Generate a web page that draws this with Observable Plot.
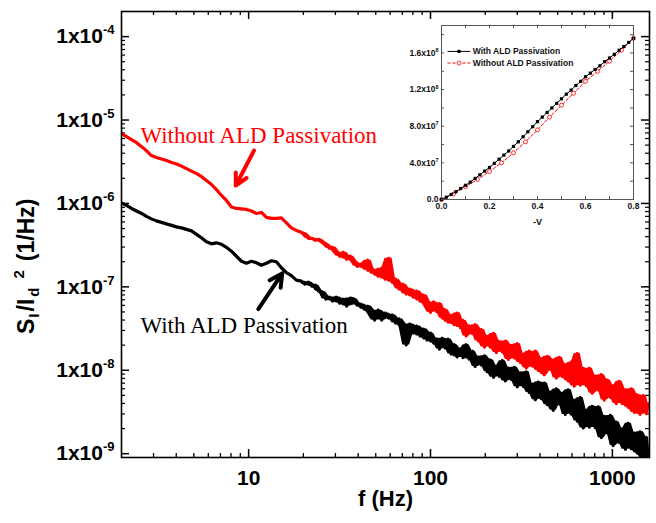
<!DOCTYPE html>
<html><head><meta charset="utf-8">
<script src="https://cdn.jsdelivr.net/npm/d3@7"></script>
<script src="https://cdn.jsdelivr.net/npm/@observablehq/plot@0.6"></script>
<style>
body{margin:0;background:#fff;}
#wrap{position:relative;width:656px;height:523px;overflow:hidden;}
#inset{position:absolute;left:395px;top:15px;}
</style></head><body><div id="wrap"><div id="main"></div><div id="inset"></div></div>
<script>
// ---- main spectrum data (frequency in Hz, log10 of S_I/I_d^2) ----
const freqHz = [2,2.13,2.27,2.42,2.58,2.74,2.92,3.11,3.32,3.53,3.77,4.01,4.27,4.55,4.85,5.17,5.5,5.86,6.25,6.65,7.09,7.55,8.04,8.57,9.13,9.72,10.36,11.04,11.76,12.52,13.34,14.21,15.14,16.13,17.18,18.3,
19.5,20.4,21.3,22.3,23.3,24.3,25.4,26.6,27.8,29,30.3,31.7,33.1,34.6,36.2,37.8,39.5,41.3,43.2,45.1,47.2,49.3,51.5,53.9,56.3,58.9,61.5,64.3,67.2,70.3,73.5,76.8,80.3,83.9,87.7,91.7,95.8,
100,104,108,112,116,120,125,130,135,140,146,151,157,163,170,176,183,190,198,205,213,222,230,239,248,258,268,278,289,300,312,324,336,349,363,377,391,407,422,439,456,473,492,511,530,551,572,594,617,641,666,692,719,747,775,805,837,869,902,937,974,1010,1050,1090,1130,1180,1220,1270,1320,1370,1420,1480,1540,1575];

const log10WithALD = [-5.994,-6.024,-6.060,-6.090,-6.120,-6.155,-6.185,-6.209,-6.227,-6.245,-6.263,-6.281,-6.293,-6.311,-6.329,-6.371,-6.412,-6.460,-6.484,-6.472,-6.490,-6.526,-6.573,-6.633,-6.693,-6.717,-6.693,-6.711,-6.741,-6.717,-6.687,-6.699,-6.771,-6.830,-6.866,-6.920,
-6.932,-6.968,-6.944,-6.992,-6.980,-7.051,-7.063,-7.147,-7.123,-7.171,-7.123,-7.195,-7.147,-7.231,-7.135,-7.147,-7.219,-7.207,-7.267,-7.231,-7.326,-7.398,-7.279,-7.398,-7.314,-7.374,-7.338,-7.434,-7.386,-7.482,-7.697,-7.446,-7.553,-7.470,-7.589,-7.506,-7.637,
-7.556,-7.673,-7.624,-7.746,-7.617,-7.731,-7.628,-7.805,-7.693,-7.840,
-7.744,-7.848,-7.694,-7.865,-7.773,-7.955,-7.842,-7.935,-7.827,-8.017,
-7.876,-8.084,-7.951,-8.071,-7.885,-8.128,-7.974,-8.110,-7.965,-8.198,
-8.030,-8.194,-8.019,-8.266,-8.167,-8.352,-8.142,-8.341,-8.153,-8.413,
-8.263,-8.480,-8.224,-8.404,-8.277,-8.529,-8.235,-8.525,-8.360,-8.609,
-8.328,-8.692,-8.480,-8.681,-8.432,-8.687,-8.439,-8.808,-8.553,-8.751,
-8.541,-8.903,-8.620,-8.865,-8.706,-8.947,-8.635,-8.941,-8.754,-8.993,
-8.738,-9.058,-8.806,-9.067];

const log10WithoutALD = [-5.164,-5.200,-5.235,-5.271,-5.319,-5.367,-5.426,-5.450,-5.468,-5.486,-5.510,-5.528,-5.552,-5.582,-5.612,-5.642,-5.677,-5.725,-5.773,-5.833,-5.904,-5.964,-6.042,-6.060,-6.066,-6.072,-6.090,-6.120,-6.108,-6.167,-6.179,-6.179,-6.173,-6.233,-6.293,-6.323,
-6.346,-6.370,-6.418,-6.418,-6.442,-6.430,-6.466,-6.490,-6.538,-6.526,-6.585,-6.633,-6.585,-6.669,-6.633,-6.693,-6.753,-6.729,-6.777,-6.681,-6.824,-6.801,-6.872,-6.777,-6.908,-6.657,-6.944,-6.908,-7.027,-6.968,-7.087,-7.027,-7.123,-7.051,-7.171,-7.099,-7.231,
-7.305,-7.181,-7.295,-7.200,-7.372,-7.274,-7.423,-7.342,-7.453,-7.314,
-7.488,-7.403,-7.589,-7.468,-7.560,-7.454,-7.647,-7.512,-7.722,-7.594,
-7.722,-7.558,-7.788,-7.656,-7.779,-7.650,-7.871,-7.703,-7.852,-7.682,
-7.906,-7.808,-7.972,-7.771,-7.949,-7.771,-8.002,-7.860,-8.054,-7.832,
-7.989,-7.880,-8.093,-7.845,-8.075,-7.933,-8.128,-7.903,-8.190,-7.800,
-8.179,-7.976,-8.185,-7.977,-8.275,-8.069,-8.235,-8.053,-8.357,-8.117,
-8.324,-8.188,-8.399,-8.132,-8.399,-8.235,-8.443,-8.222,-8.505,-8.294,
-8.528,-8.304,-8.521,-8.403];

// axes
const xDomain = [2, 1600];
const yDomain = [9e-10, 2e-4];
const xMajorTicks = [10, 100, 1000];
const xMinorTicks = [3,4,5,6,7,8,9,20,30,40,50,60,70,80,90,200,300,400,500,600,700,800,900];
const yMajorTicks = [1e-9, 1e-8, 1e-7, 1e-6, 1e-5, 1e-4];
const yMinorMultipliers = [2,3,4,5,6,7,8,9];
const noisyFromHz = 19;

// annotations
const annoLabels = ["Without ALD Passivation", "With ALD Passivation"];
const annoFreq = [2.54, 2.54];
const annoValue = [6.5e-6, 3.45e-8];
const annoColor = ["#ff0000", "#000000"];
const arrowFreqStart = [10.7, 11.3];
const arrowValueStart = [4.3e-6, 5.4e-8];
const arrowFreqEnd = [8.5, 15.3];
const arrowValueEnd = [1.64e-6, 1.45e-7];

// ---- inset I-V data ----
const insetVoltWith = [0,0.02,0.04,0.06,0.08,0.10,0.12,0.14,0.16,0.18,0.20,0.22,0.24,0.26,0.28,0.30,0.32,0.34,0.36,0.38,0.40,0.42,0.44,0.46,0.48,0.50,0.52,0.54,0.56,0.58,0.60,0.62,0.64,0.66,0.68,0.70,0.72,0.74,0.76,0.78,0.80];
const insetCurrentWith_1e7 = [0,0.25,0.55,0.85,1.2,1.55,1.9,2.3,2.7,3.1,3.5,3.95,4.4,4.85,5.3,5.8,6.3,6.85,7.4,7.95,8.5,9.0,9.5,10.0,10.5,11.0,11.5,11.95,12.45,12.9,13.4,13.8,14.2,14.6,15.05,15.45,15.85,16.3,16.7,17.15,17.6];
const insetVoltWithout = [0,0.05,0.10,0.15,0.20,0.25,0.30,0.35,0.40,0.45,0.50,0.55,0.60,0.65,0.70,0.75,0.80];
const insetCurrentWithout_1e7 = [0,0.6,1.4,2.2,3.05,4.0,5.1,6.3,7.6,9.0,10.3,11.6,12.9,14.0,15.1,16.3,17.6];
const insetXLabelTicks = [0, 0.2, 0.4, 0.6, 0.8];
const insetXTickMarks = [0.1,0.2,0.3,0.4,0.5,0.6,0.7];
const insetYLabelTicks = [0, 4e7, 8e7, 1.2e8, 1.6e8];
const insetYTickMarks = [2e7,4e7,6e7,8e7,1e8,1.2e8,1.4e8,1.6e8,1.8e8];
const insetLegendLabels = ["With ALD Passivation", "Without ALD Passivation"];
const insetLegendY = [1.617e8, 1.49e8];
const insetLegendX = [0.025, 0.073, 0.12, 0.13];
const insetXTitle = ["-V"];

// ---- build main ----
const W = 656, H = 523, mL = 121, mR = 7, mT = 11, mB = 66;
const fw = W - mL - mR, fh = H - mT - mB;
const withALD = freqHz.map((f, i) => ({f, v: 10 ** log10WithALD[i]}));
const withoutALD = freqHz.map((f, i) => ({f, v: 10 ** log10WithoutALD[i]}));
const yMinorTicks = yMajorTicks.slice(0, -1).flatMap(d => yMinorMultipliers.map(m => d * m));
const annotations = annoLabels.map((t, i) => ({t, f: annoFreq[i], v: annoValue[i], c: annoColor[i]}));
const arrows = arrowFreqStart.map((f, i) => ({f1: f, v1: arrowValueStart[i], f2: arrowFreqEnd[i], v2: arrowValueEnd[i]}));
const font = "'Liberation Sans', Arial, Helvetica, sans-serif";
const serif = "'Liberation Serif', 'Times New Roman', serif";

// filled envelope of the dense noisy part of each trace
const band = (data, color) => Plot.areaY(data.filter(d => d.f >= noisyFromHz), Plot.map(
  {y1: Plot.window({k: 3, reduce: "min"}), y2: Plot.window({k: 3, reduce: "max"})},
  {x: "f", y1: "v", y2: "v", fill: color, clip: true}));

const main = Plot.plot({
  width: W, height: H, marginLeft: mL, marginRight: mR, marginTop: mT, marginBottom: mB,
  style: {background: "#fff", fontFamily: font, color: "#000"},
  x: {type: "log", domain: xDomain},
  y: {type: "log", domain: yDomain},
  marks: [
    Plot.ruleX(xMinorTicks, {insetTop: fh - 4, stroke: "#000", strokeWidth: 1.3}),
    Plot.ruleX(xMajorTicks, {insetTop: fh - 8, stroke: "#000", strokeWidth: 1.5}),
    Plot.ruleX(xMinorTicks, {insetBottom: fh - 4, stroke: "#000", strokeWidth: 1.3}),
    Plot.ruleX(xMajorTicks, {insetBottom: fh - 8, stroke: "#000", strokeWidth: 1.5}),
    Plot.ruleY(yMinorTicks, {insetRight: fw - 4, stroke: "#000", strokeWidth: 1.2}),
    Plot.ruleY(yMajorTicks, {insetRight: fw - 8, stroke: "#000", strokeWidth: 1.5}),
    Plot.ruleY(yMinorTicks, {insetLeft: fw - 4, stroke: "#000", strokeWidth: 1.2}),
    Plot.ruleY(yMajorTicks, {insetLeft: fw - 8, stroke: "#000", strokeWidth: 1.5}),
    Plot.axisX({ticks: xMajorTicks, tickSize: 0, tickPadding: 13, tickFormat: d => String(d), fontSize: 21, fontWeight: "bold", label: null}),
    Plot.axisY({ticks: yMajorTicks, tickSize: 0, tickPadding: 7, tickFormat: d => "1x10^" + Math.round(Math.log10(d)), fontSize: 21, fontWeight: "bold", label: null}),
    band(withALD, "#000"),
    Plot.line(withALD, {x: "f", y: "v", stroke: "#000", strokeWidth: 3.2, clip: true}),
    band(withoutALD, "#ff0000"),
    Plot.line(withoutALD, {x: "f", y: "v", stroke: "#ff0000", strokeWidth: 3.2, clip: true}),
    Plot.arrow([arrows[0]], {x1: "f1", y1: "v1", x2: "f2", y2: "v2", stroke: "#ff0000", strokeWidth: 4, headLength: 13, headAngle: 55}),
    Plot.arrow([arrows[1]], {x1: "f1", y1: "v1", x2: "f2", y2: "v2", stroke: "#000", strokeWidth: 4, headLength: 13, headAngle: 55}),
    Plot.text([annotations[0]], {x: "f", y: "v", text: "t", fill: "#ff0000", textAnchor: "start", fontSize: 23, fontFamily: serif}),
    Plot.text([annotations[1]], {x: "f", y: "v", text: "t", fill: "#000", textAnchor: "start", fontSize: 23, fontFamily: serif}),
    Plot.text(["f (Hz)"], {text: d => d, frameAnchor: "bottom", dy: 48, fontSize: 22, fontWeight: "bold"}),
    Plot.frame({stroke: "#000", strokeWidth: 1.6})
  ]
});
document.getElementById("main").appendChild(main);

function superscriptLabels(svg, size, shift) {
  svg.querySelectorAll("text").forEach(t => {
    const s = t.textContent;
    if (!s.includes("^")) return;
    const [base, sup] = s.split("^");
    while (t.firstChild) t.removeChild(t.firstChild);
    const a = document.createElementNS("http://www.w3.org/2000/svg", "tspan");
    a.textContent = base;
    const b = document.createElementNS("http://www.w3.org/2000/svg", "tspan");
    b.textContent = sup;
    b.setAttribute("font-size", size);
    b.setAttribute("dy", -shift);
    t.appendChild(a); t.appendChild(b);
  });
}
superscriptLabels(main, 13, 9);

// y-axis title with sub/superscripts (reads bottom to top)
const yTitle = d3.select(main).append("text")
  .attr("transform", "translate(34,334) rotate(-90)")
  .attr("text-anchor", "start")
  .attr("font-family", font)
  .attr("font-weight", "bold")
  .attr("font-size", 23)
  .attr("fill", "#000");
yTitle.append("tspan").text("S");
yTitle.append("tspan").attr("font-size", 15).attr("dx", 1).attr("dy", 5).text("I");
yTitle.append("tspan").attr("dx", 2).attr("dy", -5).text("/I");
yTitle.append("tspan").attr("font-size", 15).attr("dx", 2).attr("dy", 5).text("d");
yTitle.append("tspan").attr("font-size", 15).attr("dx", 9).attr("dy", -15).text("2");
yTitle.append("tspan").attr("dx", 9).attr("dy", 10).text("(1/Hz)");

// ---- inset ----
const iW = 245, iH = 220, iL = 46, iR = 7, iT = 10, iB = 36;
const ifw = iW - iL - iR, ifh = iH - iT - iB;
const ivWith = insetVoltWith.map((v, i) => ({v, i: insetCurrentWith_1e7[i] * 1e7}));
const ivWithout = insetVoltWithout.map((v, i) => ({v, i: insetCurrentWithout_1e7[i] * 1e7}));
const legendRows = insetLegendLabels.map((t, k) => ({t, y: insetLegendY[k], x1: insetLegendX[0], xm: insetLegendX[1], x2: insetLegendX[2], xt: insetLegendX[3]}));
const insetYFormat = d => {
  if (d === 0) return "0.0";
  const e = Math.floor(Math.log10(d));
  return (d / 10 ** e).toFixed(1) + "x10^" + e;
};
const inset = Plot.plot({
  width: iW, height: iH, marginLeft: iL, marginRight: iR, marginTop: iT, marginBottom: iB,
  style: {background: "transparent", fontFamily: font, color: "#111", overflow: "visible"},
  x: {domain: [0, 0.8]},
  y: {domain: [0, 1.9e8]},
  marks: [
    Plot.frame({fill: "#fff", stroke: null}),
    Plot.ruleX(insetXTickMarks, {insetTop: ifh - 3, stroke: "#555"}),
    Plot.ruleX(insetXTickMarks, {insetBottom: ifh - 3, stroke: "#555"}),
    Plot.ruleY(insetYTickMarks, {insetRight: ifw - 3, stroke: "#555"}),
    Plot.ruleY(insetYTickMarks, {insetLeft: ifw - 3, stroke: "#555"}),
    Plot.axisX({ticks: insetXLabelTicks, tickSize: 0, tickPadding: 3, tickFormat: d => d.toFixed(1), fontSize: 8.5, fontWeight: "bold", label: null}),
    Plot.axisY({ticks: insetYLabelTicks, tickSize: 0, tickPadding: 3, tickFormat: insetYFormat, fontSize: 8.5, fontWeight: "bold", label: null}),
    Plot.line(ivWithout, {x: "v", y: "i", stroke: "#ff0000", strokeWidth: 1, strokeDasharray: "3,2"}),
    Plot.dot(ivWithout, {x: "v", y: "i", r: 2, stroke: "#ff0000", fill: "#fff", strokeWidth: 0.8}),
    Plot.line(ivWith, {x: "v", y: "i", stroke: "#000", strokeWidth: 1}),
    Plot.dot(ivWith, {x: "v", y: "i", symbol: "square", r: 1.8, fill: "#000", stroke: null}),
    Plot.link([legendRows[0]], {x1: "x1", x2: "x2", y1: "y", y2: "y", stroke: "#000", strokeWidth: 1}),
    Plot.dot([legendRows[0]], {x: "xm", y: "y", symbol: "square", r: 1.8, fill: "#000", stroke: null}),
    Plot.link([legendRows[1]], {x1: "x1", x2: "x2", y1: "y", y2: "y", stroke: "#ff0000", strokeWidth: 1, strokeDasharray: "3,2"}),
    Plot.dot([legendRows[1]], {x: "xm", y: "y", r: 2, stroke: "#ff0000", fill: "#fff", strokeWidth: 0.8}),
    Plot.text(legendRows, {x: "xt", y: "y", text: "t", textAnchor: "start", fontSize: 8.5, fill: "#111", fontWeight: "bold"}),
    Plot.text(insetXTitle, {text: d => d, frameAnchor: "bottom", dy: 25, fontSize: 9, fontWeight: "bold"}),
    Plot.frame({stroke: "#555", strokeWidth: 1})
  ]
});
superscriptLabels(inset, 5.5, 3.5);
document.getElementById("inset").appendChild(inset);
</script>
</body></html>
